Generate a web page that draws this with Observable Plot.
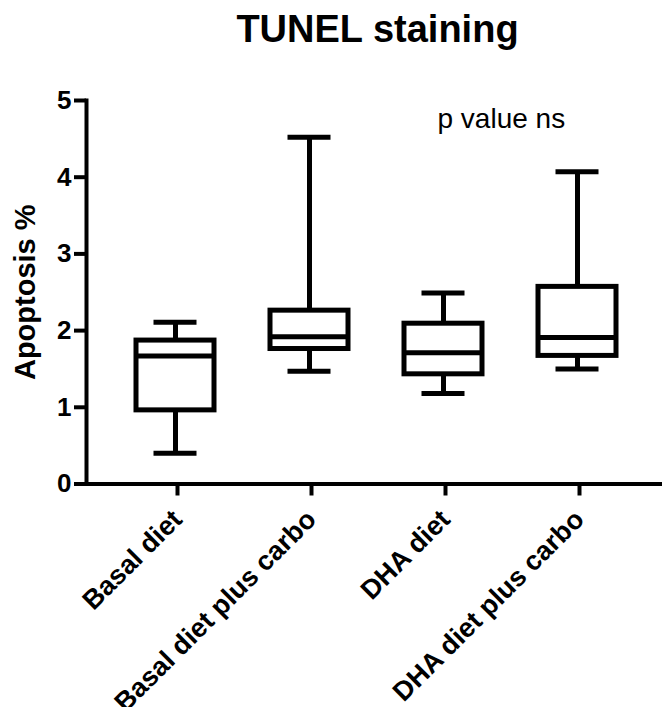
<!DOCTYPE html>
<html>
<head>
<meta charset="utf-8">
<script src="https://cdn.jsdelivr.net/npm/d3@7"></script>
<script src="https://cdn.jsdelivr.net/npm/@observablehq/plot@0.6"></script>
<style>
  html, body { margin: 0; padding: 0; background: #fff; }
</style>
</head>
<body>
<div id="chart"></div>
<script>
const groups = ["Basal diet", "Basal diet plus carbo", "DHA diet", "DHA diet plus carbo"];
const whiskerLow  = [0.40, 1.47, 1.18, 1.50];
const quartile1   = [0.96, 1.76, 1.43, 1.67];
const median      = [1.67, 1.92, 1.71, 1.91];
const quartile3   = [1.87, 2.26, 2.09, 2.57];
const whiskerHigh = [2.11, 4.52, 2.49, 4.07];
const yTicks = [0, 1, 2, 3, 4, 5];

const data = groups.map((g, i) => ({
  group: g, lo: whiskerLow[i], q1: quartile1[i], med: median[i], q3: quartile3[i], hi: whiskerHigh[i]
}));

const sw = 5;
const chart = Plot.plot({
  width: 662,
  height: 707,
  marginTop: 100,
  marginBottom: 223.5,
  marginLeft: 86,
  marginRight: 0,
  style: { fontFamily: "'Liberation Sans', Arial, sans-serif", fontWeight: "bold", color: "black", background: "white" },
  x: { type: "band", domain: groups, range: [136, 616], paddingInner: 0.418, paddingOuter: 0, label: null },
  y: { domain: [0, 5], label: null },
  marks: [
    Plot.ruleX(data, { x: "group", y1: "lo", y2: "q1", stroke: "black", strokeWidth: sw }),
    Plot.ruleX(data, { x: "group", y1: "q3", y2: "hi", stroke: "black", strokeWidth: sw }),
    Plot.tickY(data, { x: "group", y: "lo", insetLeft: 17.5, insetRight: 17.5, stroke: "black", strokeWidth: sw }),
    Plot.tickY(data, { x: "group", y: "hi", insetLeft: 17.5, insetRight: 17.5, stroke: "black", strokeWidth: sw }),
    Plot.barY(data, { x: "group", y1: "q1", y2: "q3", fill: "none", stroke: "black", strokeWidth: sw }),
    Plot.tickY(data, { x: "group", y: "med", stroke: "black", strokeWidth: sw }),
    Plot.frame({ anchor: "left", stroke: "black", strokeWidth: 4 }),
    Plot.ruleY([0], { stroke: "black", strokeWidth: 4 }),
    Plot.axisY({ ticks: yTicks, tickFormat: d => String(d), tickSize: 12, tickPadding: 3, strokeWidth: 4, fontSize: 26, fontWeight: "bold", label: null }),
    Plot.axisX({ tickSize: 12, tickRotate: -45, tickPadding: 19, dx: 2, strokeWidth: 4, fontSize: 27, fontWeight: "bold", label: null }),
    Plot.text(["TUNEL staining"], { frameAnchor: "top", textAnchor: "middle", dx: 3, dy: -85, fontSize: 38, fontWeight: "bold" }),
    Plot.text(["Apoptosis %"], { frameAnchor: "left", textAnchor: "middle", rotate: -90, dx: -61, fontSize: 29, fontWeight: "bold" }),
    Plot.text(["p value ns"], { frameAnchor: "top-left", textAnchor: "start", dx: 351, dy: 8, fontSize: 28, fontWeight: "normal" })
  ]
});
document.getElementById("chart").appendChild(chart);
</script>
</body>
</html>
